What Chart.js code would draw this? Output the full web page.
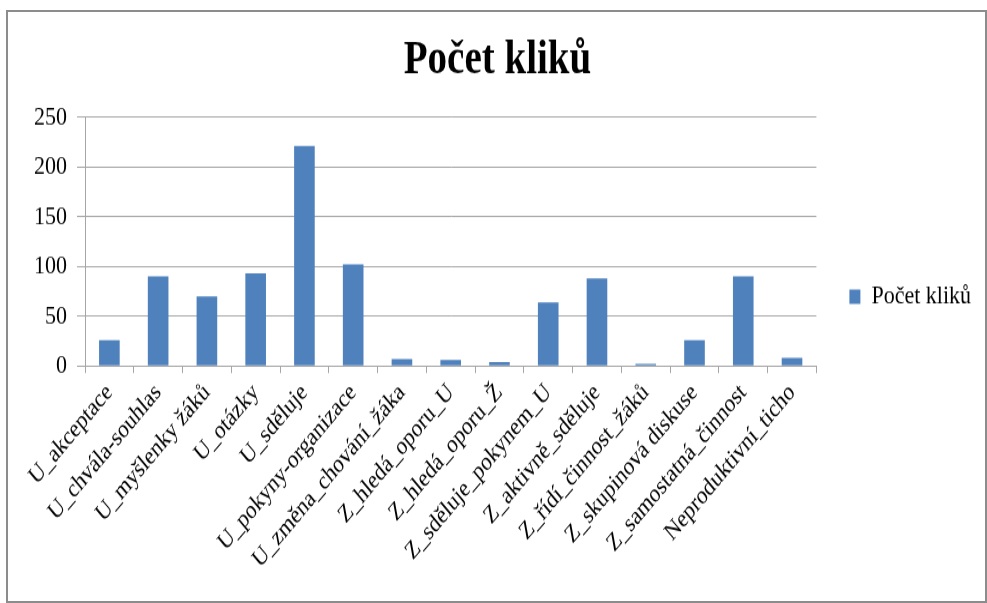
<!DOCTYPE html>
<html>
<head>
<meta charset="utf-8">
<script src="https://cdn.jsdelivr.net/npm/chart.js@4"></script>
<style>
  html, body { margin: 0; padding: 0; background: #fff; overflow: hidden; }
  #wrap { position: relative; width: 987px; height: 603px; }
  #c { position: absolute; left: 0; top: 0; width: 987px !important; height: 603px !important; }
  #frame { position: absolute; left: 6px; top: 10px; width: 981px; height: 593px;
           box-sizing: border-box; border: 2px solid #8c8c8c; pointer-events: none; }
</style>
</head>
<body>
<div id="wrap">
  <canvas id="c" width="987" height="503"></canvas>
  <div id="frame"></div>
</div>
<script>
const titleText = 'Počet kliků';
const seriesName = 'Počet kliků';
const categories = [
  'U_akceptace',
  'U_chvála-souhlas',
  'U_myšlenky žáků',
  'U_otázky',
  'U_sděluje',
  'U_pokyny-organizace',
  'U_změna_chování_žáka',
  'Z_hledá_oporu_U',
  'Z_hledá_oporu_Ž',
  'Z_sděluje_pokynem_U',
  'Z_aktivně_sděluje',
  'Z_řídí_činnost_žáků',
  'Z_skupinová diskuse',
  'Z_samostatná_činnost',
  'Neproduktivní_ticho'
];
const values = [26, 90, 70, 93, 221, 102, 7, 6, 4, 64, 88, 2, 26, 90, 8];
const yTicks = [0, 50, 100, 150, 200, 250];

const serif = "'Liberation Serif', 'Times New Roman', serif";
const gridGray = '#a6a6a6';

new Chart(document.getElementById('c'), {
  type: 'bar',
  data: {
    labels: categories,
    datasets: [{
      label: seriesName,
      data: values,
      backgroundColor: '#4f81bd',
      borderWidth: 0,
      barPercentage: 0.423,
      categoryPercentage: 1.0
    }]
  },
  options: {
    responsive: false,
    animation: false,
    devicePixelRatio: 1,
    layout: { padding: { left: 14, right: 6, top: 12, bottom: 20 } },
    plugins: {
      title: {
        display: true,
        text: titleText,
        color: '#000',
        font: { family: serif, size: 39, weight: 'bold' },
        padding: { top: 16, bottom: 23 }
      },
      legend: {
        display: true,
        position: 'right',
        align: 'center',
        labels: {
          color: '#000',
          font: { family: serif, size: 22 },
          boxWidth: 11,
          boxHeight: 12,
          padding: 33
        }
      },
      tooltip: { enabled: false }
    },
    scales: {
      x: {
        offset: true,
        grid: {
          display: true,
          offset: true,
          drawOnChartArea: false,
          drawTicks: true,
          tickLength: 6,
          color: gridGray
        },
        border: { display: true, color: gridGray, width: 1 },
        ticks: {
          color: '#000',
          font: { family: serif, size: 21 },
          minRotation: 45,
          maxRotation: 45,
          autoSkip: false,
          padding: 4
        }
      },
      y: {
        min: 0,
        max: 250,
        afterBuildTicks: (axis) => { axis.ticks = yTicks.map(v => ({ value: v })); },
        afterFit: (axis) => { axis.width += 10; },
        grid: {
          display: true,
          color: gridGray,
          drawTicks: true,
          tickLength: 8
        },
        border: { display: true, color: gridGray, width: 1 },
        ticks: {
          color: '#000',
          font: { family: serif, size: 22 },
          padding: 10
        }
      }
    }
  }
});
</script>
</body>
</html>
